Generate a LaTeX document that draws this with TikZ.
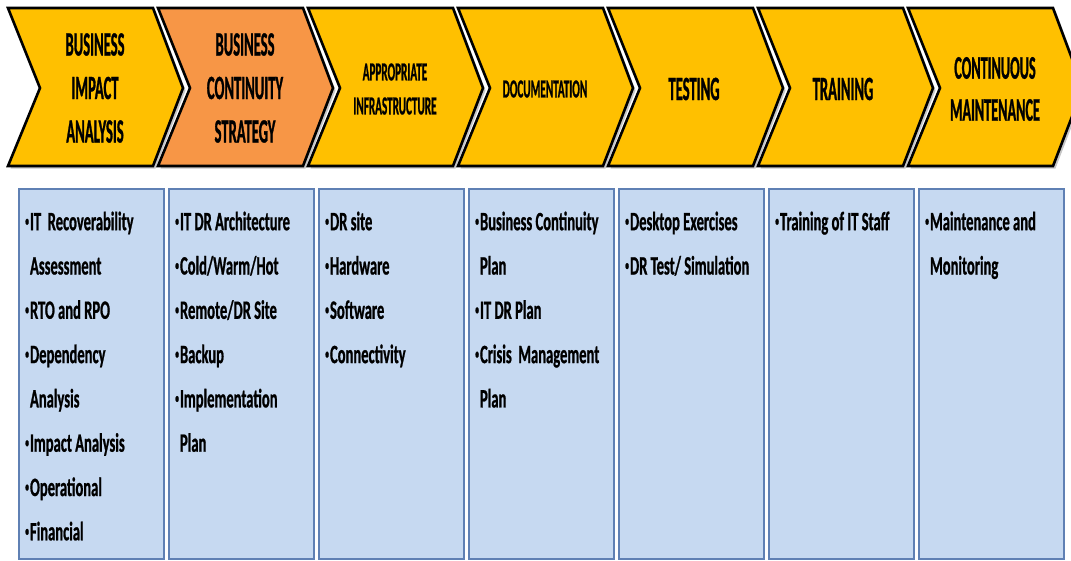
\documentclass[tikz,border=0pt]{standalone}
\usepackage{fontspec}
\usetikzlibrary{shadows}
\newfontfamily\hdfont[FakeStretch=0.43,FakeBold=0.8]{Carlito}
\newfontfamily\bdfont[FakeStretch=0.55,FakeBold=0.8]{Carlito}
\definecolor{chevyel}{HTML}{FFC000}
\definecolor{chevorg}{HTML}{F79646}
\definecolor{boxfill}{HTML}{C6D9F1}
\definecolor{boxline}{HTML}{5F80B4}
\newcommand{\hdbig}{\hdfont\bfseries\fontsize{34}{43.5}\selectfont}
\newcommand{\hdmid}{\hdfont\bfseries\fontsize{26}{34}\selectfont}
\newcommand{\hdcm}{\hdfont\bfseries\fontsize{33}{42}\selectfont}
\newcommand{\bdtxt}{\bdfont\bfseries\fontsize{26.5}{44.3}\selectfont}
\newcommand{\bu}{\raisebox{4.5pt}{\fontsize{14}{14}\selectfont•}\hspace{1pt}}
\newcommand{\nb}{\hphantom{\bu}}
\begin{document}
\begin{tikzpicture}[x=1pt,y=-1pt,
  chev/.style={draw=black, line width=2.6pt, line join=miter,
    drop shadow={opacity=0.45, shadow xshift=2.5pt, shadow yshift=-2.5pt}},
  hd/.style={align=center, inner sep=0pt, text=black},
  cbox/.style={draw=boxline, line width=2.2pt, fill=boxfill, anchor=north west,
    minimum width=145pt, minimum height=370pt, inner sep=0pt},
  bd/.style={align=left, anchor=north west, inner sep=0pt, font=\bdtxt, text=black}]
\useasboundingbox (0,0) rectangle (1071,560);
\clip (0,0) rectangle (1071,560);
% chevrons
\foreach \i/\c in {0/chevyel,1/chevorg,2/chevyel,3/chevyel,4/chevyel,5/chevyel,6/chevyel}{
  \pgfmathsetmacro\xo{8+150*\i}
  \draw[chev, fill=\c] (\xo,8) -- ++(145,0) -- ++(30,80) -- ++(-30,78)
     -- ++(-145,0) -- ++(32,-78) -- cycle;
}
% chevron labels
\node[hd, font=\hdbig] (h1) at (95,88) {BUSINESS\\IMPACT\\ANALYSIS};
\node[hd, font=\hdbig] (h2) at (245,88) {BUSINESS\\CONTINUITY\\STRATEGY};
\node[hd, font=\hdmid] (h3) at (395,89) {APPROPRIATE\\INFRASTRUCTURE};
\node[hd, font=\hdmid] (h4) at (545,89) {DOCUMENTATION};
\node[hd, font=\hdbig] (h5) at (694,89) {TESTING};
\node[hd, font=\hdbig] (h6) at (843,89) {TRAINING};
\node[hd, font=\hdcm] (h7) at (995,89) {CONTINUOUS\\MAINTENANCE};
% content boxes
\foreach \i in {0,...,6}{
  \node[cbox] (r\i) at (18+150*\i,188) {};
}
% content texts
\node[bd] (t1) at (25,199) {\strut\bu IT~ Recoverability\\\nb Assessment\\\bu RTO and RPO\\\bu Dependency\\\nb Analysis\\\bu Impact Analysis\\\bu Operational\\\bu Financial};
\node[bd] (t2) at (175,199) {\strut\bu IT DR Architecture\\\bu Cold/Warm/Hot\\\bu Remote/DR Site\\\bu Backup\\\bu Implementation\\\nb Plan};
\node[bd] (t3) at (325,199) {\strut\bu DR site\\\bu Hardware\\\bu Software\\\bu Connectivity};
\node[bd] (t4) at (475,199) {\strut\bu Business Continuity\\\nb Plan\\\bu IT DR Plan\\\bu Crisis~ Management\\\nb Plan};
\node[bd] (t5) at (625,199) {\strut\bu Desktop Exercises\\\bu DR Test/ Simulation};
\node[bd] (t6) at (775,199) {\strut\bu Training of IT Staff};
\node[bd] (t7) at (925,199) {\strut\bu Maintenance and\\\nb Monitoring};
\end{tikzpicture}
\end{document}
